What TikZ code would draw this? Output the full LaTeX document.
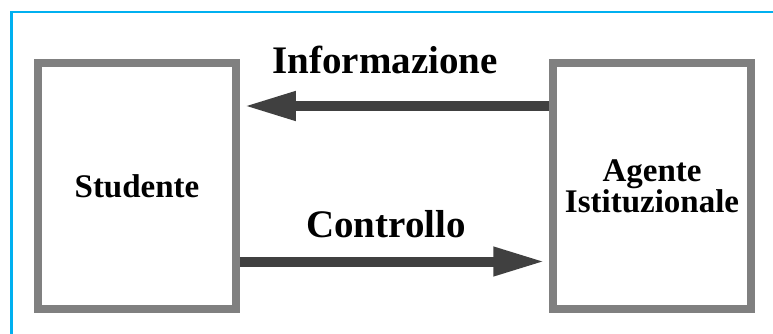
\documentclass[tikz,border=0pt]{standalone}
\usepackage{fontspec}
\setmainfont{Liberation Serif}
\usepackage{xcolor}
\usetikzlibrary{arrows.meta}
\definecolor{framecyan}{HTML}{00B0F0}
\definecolor{boxgray}{HTML}{808080}
\definecolor{arrowgray}{HTML}{404040}
\tikzset{
  actor/.style = {draw=boxgray, line width=7.5pt, fill=white,
                  minimum width=198pt, minimum height=246pt,
                  align=center, font=\fontsize{33}{29}\selectfont\bfseries},
  flow/.style = {draw=arrowgray, line width=10pt, shorten >=4pt,
                 -{Triangle[length=52pt, width=27pt]}},
  flowlabel/.style = {anchor=base, font=\fontsize{39}{40}\selectfont\bfseries}
}

\begin{document}
\begin{tikzpicture}[x=1pt, y=-1pt]
	\useasboundingbox (0,0) rectangle (773,334);
	
	% Frame (only top and left edges visible)
	\draw[framecyan, line width=2.8pt] (11.5,334) -- (11.5,12) -- (773,12);
	
	% Boxes
	\node[actor] (studente) at (137,186) {Studente};
	\node[actor] (agente)   at (652,186) {Agente\\Istituzionale};
	
	% Arrows
	\draw[flow] ([yshift=80pt]agente.west) -- ([yshift=80pt]studente.east);
	\draw[flow] ([yshift=-75.5pt]studente.east) -- ([yshift=-75.5pt]agente.west);
	
	% Labels
	\node[flowlabel] (info) at (385,74) {Informazione};
	\node[flowlabel] (ctrl) at (386,237) {Controllo};
	
\end{tikzpicture}
\end{document}
